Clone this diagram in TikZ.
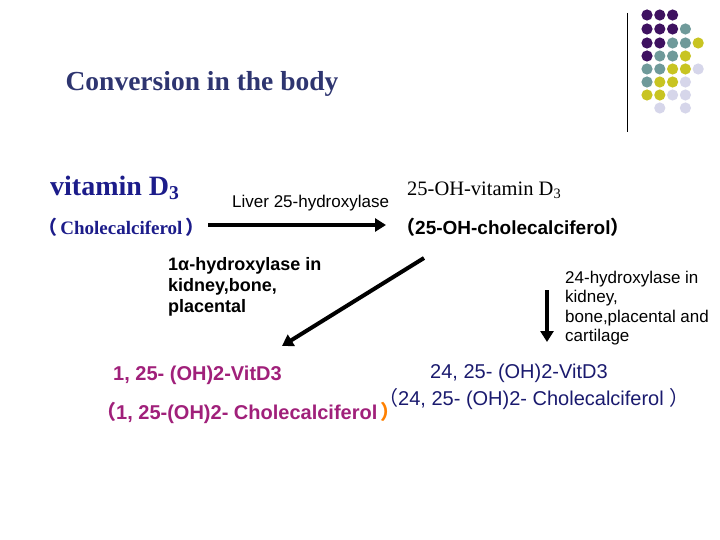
\documentclass[tikz,border=0pt]{standalone}
\usepackage{fontspec}
\setmainfont{Liberation Serif}
\setsansfont{Liberation Sans}
\newfontfamily\cjk{Noto Sans CJK SC}
\usepackage{tikz}
\definecolor{dotP}{HTML}{3E1160}
\definecolor{dotT}{HTML}{6F9A9A}
\definecolor{dotY}{HTML}{C8C422}
\definecolor{dotL}{HTML}{D6D6EA}
\definecolor{titleblue}{HTML}{2E3570}
\definecolor{vitblue}{HTML}{1C1C8A}
\definecolor{vitmag}{HTML}{A0207A}
\definecolor{navy}{HTML}{1A1A6E}
\newcommand{\lp}{{\cjk （}}
\newcommand{\rp}{{\cjk ）}}
\tikzset{
  flow/.style={line width=4pt,-{Triangle[length=11pt,width=13pt]}},
  lbl/.style={font=\sffamily\fontsize{17}{19}\selectfont,align=left,inner sep=0pt}
}
\usetikzlibrary{arrows.meta}
\begin{document}
\begin{tikzpicture}[x=1pt,y=-1pt]
    \useasboundingbox (0,0) rectangle (720,540);
    % decoration
    \draw[thin] (627,13) -- (627,132);
    \foreach \row/\list in {15/{P,P,P},29/{P,P,P,T},43/{P,P,T,T,Y},56/{P,T,T,Y},
                            69/{T,T,Y,Y,L},82/{T,Y,Y,L},95/{Y,Y,L,L}}
        \foreach \c [count=\i from 0] in \list
            \fill[dot\c] (647+12.8*\i,\row) circle (5.6pt);
    \fill[dotL] (659.8,108) circle (5.6pt);
    \fill[dotL] (685.4,108) circle (5.6pt);
    % title
    \node[text=titleblue,font=\bfseries\fontsize{27.5}{30}\selectfont] (title) at (202,84) {Conversion in the body};
    % compounds
    \node[text=vitblue,font=\bfseries\fontsize{28}{30}\selectfont,anchor=west,inner sep=0pt] (vit) at (50,188) {vitamin D\textsubscript{3}};
    \node[text=vitblue,font=\bfseries\fontsize{19}{22}\selectfont,anchor=west,inner sep=0pt] (chol) at (38,227) {\lp\,Cholecalciferol\,\rp};
    \node[font=\fontsize{20.5}{22}\selectfont,anchor=west,inner sep=0pt] (ohvit) at (407,190) {25-OH-vitamin D\textsubscript{3}};
    \node[font=\sffamily\bfseries\fontsize{19}{22}\selectfont,anchor=west,inner sep=0pt] (ohchol) at (396,227) {\lp25-OH-cholecalciferol\rp};
    \node[text=vitmag,font=\sffamily\bfseries\fontsize{20}{22}\selectfont,anchor=west,inner sep=0pt] (dihyd) at (113,375) {1, 25- (OH)2-VitD3};
    \node[text=vitmag,font=\sffamily\bfseries\fontsize{20}{22}\selectfont,anchor=west,inner sep=0pt] (dihydchol) at (96,413) {\lp1, 25-(OH)2- Cholecalciferol\,\textcolor{orange}{\rp}};
    \node[text=navy,font=\sffamily\fontsize{20}{22}\selectfont,anchor=west,inner sep=0pt] (tfhyd) at (430,373) {24, 25- (OH)2-VitD3};
    \node[text=navy,font=\sffamily\fontsize{20}{22}\selectfont,anchor=west,inner sep=0pt] (tfhydchol) at (378,399) {\lp24, 25- (OH)2- Cholecalciferol \rp};
    % enzymes
    \node[lbl,anchor=west] (liver) at (232,203) {Liver 25-hydroxylase};
    \node[lbl,font=\sffamily\bfseries\fontsize{18}{21}\selectfont,anchor=north west] (alpha) at (168,257) {1α-hydroxylase in\\kidney,bone,\\placental};
    \node[lbl,font=\sffamily\fontsize{17}{19.4}\selectfont,anchor=north west] (twfour) at (565,271) {24-hydroxylase in\\kidney,\\bone,placental and\\cartilage};
    % arrows
    \coordinate (a1) at (208,225);
    \coordinate (a2) at (386,225);
    \coordinate (b1) at (424,258);
    \coordinate (b2) at (282,346);
    \coordinate (c1) at (547,290);
    \coordinate (c2) at (547,342);
    \draw[flow] (a1) -- (a2);
    \draw[flow] (b1) -- (b2);
    \draw[flow] (c1) -- (c2);
\end{tikzpicture}
\end{document}
